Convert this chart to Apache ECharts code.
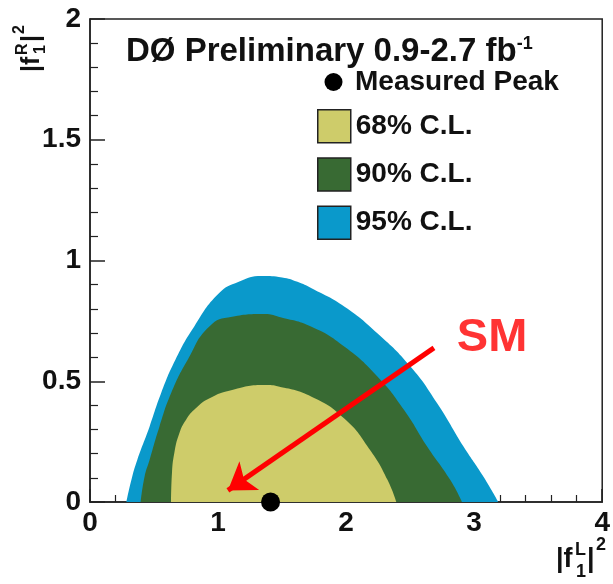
<!DOCTYPE html>
<html lang="en">
<head>
  <meta charset="UTF-8">
  <title>d0-wtb-couplings</title>
  <script src="https://cdn.jsdelivr.net/npm/echarts@6/dist/echarts.min.js"></script>
  <style>
    html, body { margin: 0; padding: 0; background: #fff; }
    #main { width: 613px; height: 584px; }
  </style>
</head>
<body>
<div id="main"></div>
<script>
  // contour outlines, [|f1L|^2, |f1R|^2]
  var cl95 = [[0.284, 0], [0.323, 0.091], [0.369, 0.174], [0.465, 0.312], [0.555, 0.45], [0.666, 0.588],
    [0.813, 0.726], [1.007, 0.864], [1.162, 0.912], [1.342, 0.936], [1.5, 0.93], [1.62, 0.912], [1.73, 0.885],
    [1.988, 0.809], [2.246, 0.698], [2.504, 0.56], [2.711, 0.409], [2.918, 0.229], [3.073, 0.105], [3.189, 0]];
  var cl90 = [[0.395, 0], [0.426, 0.105], [0.465, 0.174], [0.542, 0.312], [0.633, 0.45], [0.762, 0.588],
    [0.93, 0.726], [1.11, 0.767], [1.369, 0.778], [1.472, 0.767], [1.73, 0.726], [1.988, 0.643],
    [2.246, 0.519], [2.453, 0.381], [2.634, 0.229], [2.814, 0.091], [2.905, 0]];
  var cl68 = [[0.633, 0], [0.64, 0.119], [0.658, 0.202], [0.697, 0.284], [0.749, 0.34], [0.826, 0.388],
    [0.93, 0.429], [1.11, 0.464], [1.369, 0.484], [1.472, 0.478], [1.73, 0.436], [1.988, 0.345],
    [2.194, 0.21], [2.324, 0.091], [2.392, 0]];
  var measuredPeak = [[1.41, 0]];
  var smArrow = [[2.686, 0.638], [1.077, 0.048]];
  var smText = [[3.14, 0.68]];
  var xTicks = [0, 1, 2, 3, 4];
  var yTicks = [0, 0.5, 1, 1.5, 2];

  var font = '"Liberation Sans", Arial, Helvetica, sans-serif';
  var yellow = '#cecc6a', green = '#386a33', blue = '#0a99cb';

  var myChart = echarts.init(document.getElementById('main'));

  function area(name, data, color) {
    return {
      name: name,
      type: 'line',
      data: data,
      color: color,
      smooth: 0.5,
      showSymbol: false,
      lineStyle: {width: 0, color: color},
      areaStyle: {color: color, opacity: 1}
    };
  }

  // a piece of an axis title: |f, the R/L and 1 indices, the square
  function piece(text, x, y, size) {
    return {
      type: 'text', x: x, y: y,
      style: {text: text, fontSize: size, fontWeight: 'bold', fill: '#111', fontFamily: font, verticalAlign: 'top'}
    };
  }

  var legendText = {fontSize: 28, fontWeight: 'bold', color: '#111', fontFamily: font};
  var box = {borderColor: '#222', borderWidth: 1.5};

  myChart.setOption({
    backgroundColor: '#fff',
    animation: false,
    textStyle: {fontFamily: font},
    title: {
      text: 'DØ Preliminary 0.9-2.7 fb{sup|-1}',
      left: 126,
      top: 35,
      padding: 0,
      textStyle: {
        fontSize: 33, fontWeight: 'bold', color: '#111', fontFamily: font,
        rich: {
          sup: {fontSize: 18, fontWeight: 'bold', color: '#111', fontFamily: font, verticalAlign: 'top', lineHeight: 18, padding: [0, 0, 14, 0]}
        }
      }
    },
    legend: [
      {
        data: [{name: 'Measured Peak', icon: 'circle'}],
        left: 324.5, top: 68, padding: 0,
        itemWidth: 33, itemHeight: 18,
        selectedMode: false,
        textStyle: Object.assign({lineHeight: 18}, legendText)
      },
      {
        data: [
          {name: '68% C.L.', icon: 'rect', itemStyle: box},
          {name: '90% C.L.', icon: 'rect', itemStyle: box},
          {name: '95% C.L.', icon: 'rect', itemStyle: box}
        ],
        orient: 'vertical',
        left: 317, top: 109, padding: 0,
        itemWidth: 33, itemHeight: 33, itemGap: 13.7,
        selectedMode: false,
        textStyle: Object.assign({lineHeight: 33}, legendText)
      }
    ],
    grid: {
      left: 90, right: 7, top: 19, bottom: 82,
      show: true, borderColor: '#222', borderWidth: 1.5
    },
    xAxis: {
      type: 'value',
      min: xTicks[0], max: xTicks[xTicks.length - 1], interval: 1,
      axisLine: {lineStyle: {color: '#222', width: 1.5}},
      axisTick: {inside: true, length: 13, lineStyle: {color: '#222', width: 1.5}},
      minorTick: {show: true, splitNumber: 5, length: 7, lineStyle: {color: '#222', width: 1.2}},
      splitLine: {show: false},
      axisLabel: {fontSize: 28, fontWeight: 'bold', color: '#111', margin: 7, fontFamily: font}
    },
    yAxis: {
      type: 'value',
      min: yTicks[0], max: yTicks[yTicks.length - 1], interval: 0.5,
      axisLine: {lineStyle: {color: '#222', width: 1.5}},
      axisTick: {inside: true, length: 15, lineStyle: {color: '#222', width: 1.5}},
      minorTick: {show: true, splitNumber: 5, length: 8, lineStyle: {color: '#222', width: 1.2}},
      splitLine: {show: false},
      axisLabel: {fontSize: 28, fontWeight: 'bold', color: '#111', margin: 9, fontFamily: font}
    },
    graphic: [
      {
        // y axis title |f1R|^2, turned to read bottom to top
        type: 'group', x: 12, y: 72, rotation: Math.PI / 2,
        children: [
          piece('|f', 0, 8, 25),
          piece('R', 17, 3, 16),
          piece('1', 18, 21, 16),
          piece('|', 30, 8, 25),
          piece('2', 38, 0, 16)
        ]
      },
      {
        // x axis title |f1L|^2
        type: 'group', x: 556, y: 536,
        children: [
          piece('|f', 0, 10, 27),
          piece('L', 19, 5, 18),
          piece('1', 20, 27, 18),
          piece('|', 31, 10, 27),
          piece('2', 40, 0, 18)
        ]
      }
    ],
    series: [
      area('95% C.L.', cl95, blue),
      area('90% C.L.', cl90, green),
      area('68% C.L.', cl68, yellow),
      {
        name: 'SM arrow',
        type: 'lines',
        coordinateSystem: 'cartesian2d',
        data: [{coords: smArrow}],
        symbol: ['none', 'arrow'],
        symbolSize: 26,
        lineStyle: {color: '#ff0000', width: 5, opacity: 1, curveness: 0},
        z: 5
      },
      {
        name: 'SM',
        type: 'scatter',
        data: smText,
        symbolSize: 0,
        label: {
          show: true, position: 'inside', formatter: 'SM',
          fontSize: 47, fontWeight: 'bold', color: '#ff0000', fontFamily: font
        },
        z: 5
      },
      {
        name: 'Measured Peak',
        type: 'scatter',
        data: measuredPeak,
        symbol: 'circle',
        symbolSize: 19,
        itemStyle: {color: '#000', opacity: 1},
        clip: false,
        z: 6
      }
    ]
  });
</script>
</body>
</html>
